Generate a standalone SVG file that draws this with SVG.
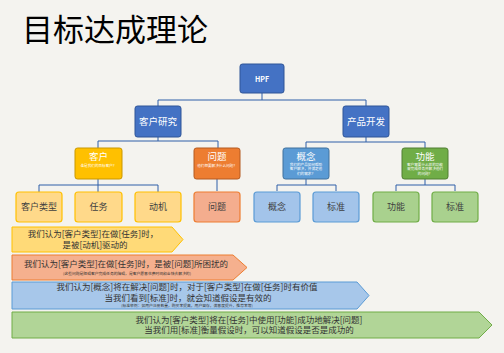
<svg xmlns="http://www.w3.org/2000/svg" width="504" height="353" viewBox="0 0 504 353">
<style>
text{font-family:"Noto Sans CJK SC","Liberation Sans",sans-serif;}
.c{text-anchor:middle;}
.w{fill:#fff;}
.d{fill:#404040;}
.lbl{font-size:9px;}
.ttl{font-size:9.5px;}
.tiny{font-size:3.6px;fill:#fff;}
.ban{font-size:8.5px;fill:#333;}
.blue{fill:#4472C4;stroke:#2F5597;stroke-width:1;}
.yel{fill:#FFC000;stroke:#C99700;stroke-width:1;}
.ora{fill:#ED7D31;stroke:#B45A20;stroke-width:1;}
.sky{fill:#5B9BD5;stroke:#41719C;stroke-width:1;}
.grn{fill:#70AD47;stroke:#507E32;stroke-width:1;}
.lyel{fill:#FFD98A;stroke:#FFC000;stroke-width:1.2;}
.lora{fill:#F4AD8E;stroke:#ED7D31;stroke-width:1.2;}
.lsky{fill:#A3C4EA;stroke:#5B9BD5;stroke-width:1.2;}
.lgrn{fill:#A9D18E;stroke:#70AD47;stroke-width:1.2;}
.conn{fill:none;stroke:#2F5FA8;stroke-width:1;}
</style>
<rect x="0" y="0" width="504" height="353" fill="#F4F3EF"/>
<text x="22" y="41" style="font-size:31px" fill="#000">目标达成理论</text>

<g id="connectors" class="conn">
<path d="M262,93 V100 M158,100 H366 M158,100 V106 M366,100 V106"/>
<path d="M158,137 V141 M98,141 H218 M98,141 V148 M218,141 V148"/>
<path d="M366,137 V142 M306,142 H425 M306,142 V148 M425,142 V148"/>
<path d="M98,179 V185 M39,185 H158 M39,185 V192 M98,185 V192 M158,185 V192"/>
<path d="M217,179 V191"/>
<path d="M306,179 V185 M277,185 H336 M277,185 V191 M336,185 V191"/>
<path d="M425,179 V185 M396,185 H455 M396,185 V191 M455,185 V191"/>
</g>

<g id="hpf"><rect class="blue" x="240" y="64" width="44" height="29" rx="2.5"/><text class="c w" x="262" y="81.5" style="font-size:7px;font-weight:bold">HPF</text></g>
<g id="kehuyanjiu"><rect class="blue" x="135" y="106" width="46" height="31" rx="2.5"/><text class="c w ttl" x="158" y="125">客户研究</text></g>
<g id="chanpinkaifa"><rect class="blue" x="343" y="106" width="46" height="31" rx="2.5"/><text class="c w ttl" x="366" y="125">产品开发</text></g>

<g id="kehu"><rect class="yel" x="75" y="148" width="47" height="31" rx="2.5"/><text class="c w ttl" x="98.5" y="160">客户</text><text class="c tiny" x="98.5" y="166.5">谁是我们的目标客户？</text></g>
<g id="wenti"><rect class="ora" x="194" y="148" width="46" height="31" rx="2.5"/><text class="c w ttl" x="217" y="160">问题</text><text class="c tiny" x="217" y="166.5">他们想要解决什么问题？</text></g>
<g id="gainian"><rect class="sky" x="283" y="148" width="46" height="31" rx="2.5"/><text class="c w ttl" x="306" y="160">概念</text><text class="c tiny" x="306" y="165.5">我们的产品如何帮助</text><text class="c tiny" x="306" y="170">客户解决，并满足他</text><text class="c tiny" x="306" y="174.5">们的需求？</text></g>
<g id="gongneng"><rect class="grn" x="402" y="148" width="46" height="31" rx="2.5"/><text class="c w ttl" x="425" y="160">功能</text><text class="c tiny" x="425" y="165.5">客户需要什么样的功能</text><text class="c tiny" x="425" y="170">来完成任务并解决他们</text><text class="c tiny" x="425" y="174.5">的问题？</text></g>

<g id="kehuleixing"><rect class="lyel" x="16" y="192" width="46" height="30" rx="3"/><text class="c d lbl" x="39" y="210">客户类型</text></g>
<g id="renwu"><rect class="lyel" x="75" y="192" width="47" height="30" rx="3"/><text class="c d lbl" x="98.5" y="210">任务</text></g>
<g id="dongji"><rect class="lyel" x="135" y="192" width="46" height="30" rx="3"/><text class="c d lbl" x="158" y="210">动机</text></g>
<g id="wenti2"><rect class="lora" x="194" y="192" width="46" height="30" rx="3"/><text class="c d lbl" x="217" y="210">问题</text></g>
<g id="gainian2"><rect class="lsky" x="254" y="192" width="46" height="30" rx="3"/><text class="c d lbl" x="277" y="210">概念</text></g>
<g id="biaozhun1"><rect class="lsky" x="313" y="192" width="46" height="30" rx="3"/><text class="c d lbl" x="336" y="210">标准</text></g>
<g id="gongneng2"><rect class="lgrn" x="373" y="192" width="46" height="30" rx="3"/><text class="c d lbl" x="396" y="210">功能</text></g>
<g id="biaozhun2"><rect class="lgrn" x="432" y="192" width="46" height="30" rx="3"/><text class="c d lbl" x="455" y="210">标准</text></g>

<g id="banner1"><polygon points="12,227 172,227 183,239.5 172,252 12,252" fill="#FFDA78" stroke="#FFC000" stroke-width="1"/>
<text class="c ban" x="93" y="237">我们认为[客户类型]在做[任务]时，</text>
<text class="c ban" x="95" y="248">是被[动机]驱动的</text></g>
<g id="banner2"><polygon points="12,255 233,255 247,267.5 233,280 12,280" fill="#F5B08E" stroke="#ED7D31" stroke-width="1"/>
<text class="c ban" x="126" y="267">我们认为[客户类型]在做[任务]时，是被[问题]所困扰的</text>
<text class="c" x="127" y="275" style="font-size:3.8px;fill:#333">(这些问题是阻碍客户完成任务的障碍，是客户愿意花费时间和金钱去解决的)</text></g>
<g id="banner3"><polygon points="12,282 357,282 369,295.5 357,309 12,309" fill="#A7C7EA" stroke="#5B9BD5" stroke-width="1"/>
<text class="c ban" x="187" y="290">我们认为[概念]将在解决[问题]时，对于[客户类型]在做[任务]时有价值</text>
<text class="c ban" x="188" y="300.8">当我们看到[标准]时，就会知道假设是有效的</text>
<text class="c" x="187" y="307" style="font-size:3.8px;fill:#333">(标准举例：如用户注册数量，购买率提高，用户留存，满意度提升，推荐率等)</text></g>
<g id="banner4"><polygon points="12,312 479,312 492,325 479,338 12,338" fill="#B1D597" stroke="#70AD47" stroke-width="1"/>
<text class="c ban" x="249" y="322.5">我们认为[客户类型]将在[任务]中使用[功能]成功地解决[问题]</text>
<text class="c ban" x="249" y="333.3">当我们用[标准]衡量假设时，可以知道假设是否是成功的</text></g>
</svg>
